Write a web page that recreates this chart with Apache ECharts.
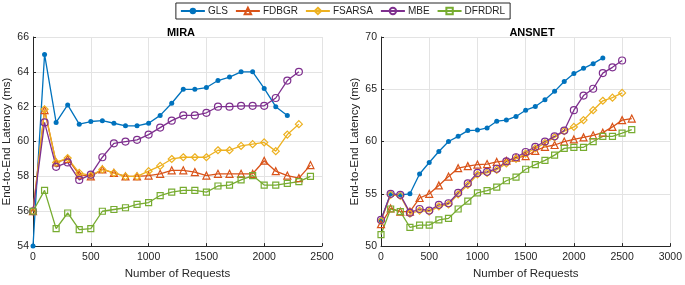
<!DOCTYPE html>
<html>
<head>
<meta charset="utf-8">
<script src="https://cdn.jsdelivr.net/npm/echarts@6/dist/echarts.min.js"></script>
<style>
  html, body { margin: 0; padding: 0; background: #fff; }
  #chart { width: 685px; height: 285px; }
</style>
</head>
<body>
<div id="chart"></div>
<script>
// 数据 —— MIRA
var xMira = [0,100,200,300,400,500,600,700,800,900,1000,1100,1200,1300,1400,1500,1600,1700,1800,1900,2000,2100,2200,2300,2400];
var miraGLS    = [54.0,65.0,61.1,62.1,61.0,61.15,61.2,61.05,60.9,60.9,61.05,61.5,62.2,63.0,63.0,63.1,63.5,63.7,64.0,64.0,63.05,62.0,61.5];
var miraFDBGR  = [56.0,61.8,58.8,59.0,58.1,58.0,58.4,58.2,58.0,58.0,58.05,58.15,58.35,58.35,58.25,58.05,58.15,58.15,58.15,58.15,58.9,58.3,58.05,57.9,58.65];
var miraFSARSA = [56.0,61.85,58.8,59.05,58.2,58.05,58.4,58.2,58.0,58.0,58.3,58.6,59.0,59.1,59.1,59.1,59.5,59.5,59.75,59.85,59.95,59.45,60.4,61.0];
var miraMBE    = [56.0,61.1,58.55,58.8,57.8,58.1,59.1,59.9,60.0,60.1,60.4,60.8,61.2,61.5,61.5,61.65,62.0,62.0,62.05,62.05,62.05,62.5,63.5,64.0];
var miraDFRDRL = [56.0,57.2,55.0,55.9,54.95,55.0,56.0,56.1,56.2,56.4,56.5,56.9,57.1,57.2,57.2,57.1,57.45,57.5,57.8,58.05,57.5,57.5,57.6,57.7,58.0];

// 数据 —— ANSNET
var xAns = [0,100,200,300,400,500,600,700,800,900,1000,1100,1200,1300,1400,1500,1600,1700,1800,1900,2000,2100,2200,2300,2400,2500,2600];
var ansGLS    = [52.5,55.0,54.9,55.0,56.9,58.0,59.05,60.0,60.5,61.05,61.1,61.3,61.95,62.05,62.4,63.0,63.35,64.0,64.8,65.75,66.5,67.0,67.45,68.0];
var ansFDBGR  = [52.1,53.6,53.3,53.3,54.6,55.0,55.8,56.65,57.45,57.65,57.8,57.85,58.05,58.15,58.45,58.6,59.1,59.5,59.67,60.0,60.2,60.4,60.6,60.85,61.4,62.05,62.2];
var ansFSARSA = [52.4,54.9,54.8,53.1,53.4,53.3,53.8,54.0,54.95,55.85,56.85,57.0,57.3,57.9,58.35,58.85,59.35,59.85,60.4,61.0,61.4,62.05,63.0,63.9,64.2,64.65];
var ansMBE    = [52.5,55.0,54.9,53.2,53.55,53.4,53.95,54.1,55.1,56.0,57.0,57.1,57.4,58.1,58.5,59.0,59.5,60.0,60.5,61.05,63.0,64.4,65.05,66.55,67.1,67.75];
var ansDFRDRL = [51.1,53.55,53.3,51.8,52.0,52.0,52.5,52.65,53.55,54.3,55.1,55.3,55.65,56.25,56.6,57.35,57.8,58.2,58.7,59.35,59.45,59.45,60.0,60.5,60.5,60.8,61.15];

var names = ['GLS', 'FDBGR', 'FSARSA', 'MBE', 'DFRDRL'];
var colors = ['#0072BD', '#D95319', '#EDB120', '#7E2F8E', '#77AC30'];
var symbols = ['circle', 'triangle', 'diamond', 'circle', 'rect'];
var sizes = [5, 7, 7, 7, 6];

var font = 'Liberation Sans, Arial, Helvetica, sans-serif';
var ink = '#262626';

function pairs(xs, ys) {
    return ys.map(function (y, i) { return [xs[i], y]; });
}

function makeSeries(idx, gi, xs, ys) {
    var c = colors[idx];
    var filled = idx === 0;
    return {
        name: names[idx],
        type: 'line',
        xAxisIndex: gi,
        yAxisIndex: gi,
        data: pairs(xs, ys),
        symbol: symbols[idx],
        symbolSize: sizes[idx],
        showAllSymbol: true,
        clip: false,
        lineStyle: { color: c, width: 1.3 },
        itemStyle: {
            color: filled ? c : 'rgba(255,255,255,0)',
            borderColor: c,
            borderWidth: filled ? 0 : 1.2
        },
        emphasis: { disabled: true },
        animation: false
    };
}

function plain(v) { return String(v); }

function xAxisCfg(gi, max) {
    return {
        gridIndex: gi, type: 'value', min: 0, max: max, interval: 500,
        name: 'Number of Requests', nameLocation: 'middle', nameGap: 19,
        nameTextStyle: { fontSize: 11.5, color: ink, fontFamily: font },
        axisLine: { show: true, onZero: false, lineStyle: { color: ink, width: 1 } },
        axisTick: { show: true, inside: true, length: 3, lineStyle: { color: ink } },
        axisLabel: { fontSize: 10.5, color: ink, fontFamily: font, margin: 6, formatter: plain },
        splitLine: { show: true, lineStyle: { color: '#e3e3e3', width: 1 } }
    };
}

function yAxisCfg(gi, min, max, step) {
    return {
        gridIndex: gi, type: 'value', min: min, max: max, interval: step,
        name: 'End-to-End Latency (ms)', nameLocation: 'middle', nameGap: 20,
        nameTextStyle: { fontSize: 11.5, color: ink, fontFamily: font },
        axisLine: { show: true, lineStyle: { color: ink, width: 1 } },
        axisTick: { show: true, inside: true, length: 3, lineStyle: { color: ink } },
        axisLabel: { fontSize: 10.5, color: ink, fontFamily: font, margin: 4, formatter: plain },
        splitLine: { show: true, lineStyle: { color: '#e3e3e3', width: 1 } }
    };
}

var myChart = echarts.init(document.getElementById('chart'), null, { renderer: 'canvas' });

var series = [
    makeSeries(0, 0, xMira, miraGLS),
    makeSeries(1, 0, xMira, miraFDBGR),
    makeSeries(2, 0, xMira, miraFSARSA),
    makeSeries(3, 0, xMira, miraMBE),
    makeSeries(4, 0, xMira, miraDFRDRL),
    makeSeries(0, 1, xAns, ansGLS),
    makeSeries(1, 1, xAns, ansFDBGR),
    makeSeries(2, 1, xAns, ansFSARSA),
    makeSeries(3, 1, xAns, ansMBE),
    makeSeries(4, 1, xAns, ansDFRDRL)
];

var option = {
    backgroundColor: '#ffffff',
    animation: false,
    textStyle: { fontFamily: font, color: ink },
    title: [
        { text: 'MIRA', left: 176, top: 22, textAlign: 'center',
          textStyle: { fontSize: 11, fontWeight: 'bold', color: '#000', fontFamily: font } },
        { text: 'ANSNET', left: 527, top: 22, textAlign: 'center',
          textStyle: { fontSize: 11, fontWeight: 'bold', color: '#000', fontFamily: font } }
    ],
    legend: {
        data: names,
        left: 'center', top: 3,
        orient: 'horizontal',
        padding: [3, 5, 3, 4],
        itemWidth: 24, itemHeight: 8, itemGap: 7,
        borderColor: ink, borderWidth: 1,
        textStyle: { fontSize: 10, color: ink, fontFamily: font, padding: [0, 0, 0, -2] }
    },
    grid: [
        { left: 30, right: 363, top: 37, bottom: 32, containLabel: false },
        { left: 381, right: 11, top: 37, bottom: 32, containLabel: false }
    ],
    xAxis: [xAxisCfg(0, 2500), xAxisCfg(1, 3000)],
    yAxis: [yAxisCfg(0, 54, 66, 2), yAxisCfg(1, 50, 70, 5)],
    series: series
};

myChart.setOption(option);
window.onresize = function () {
    myChart.resize();
};
</script>
</body>
</html>
